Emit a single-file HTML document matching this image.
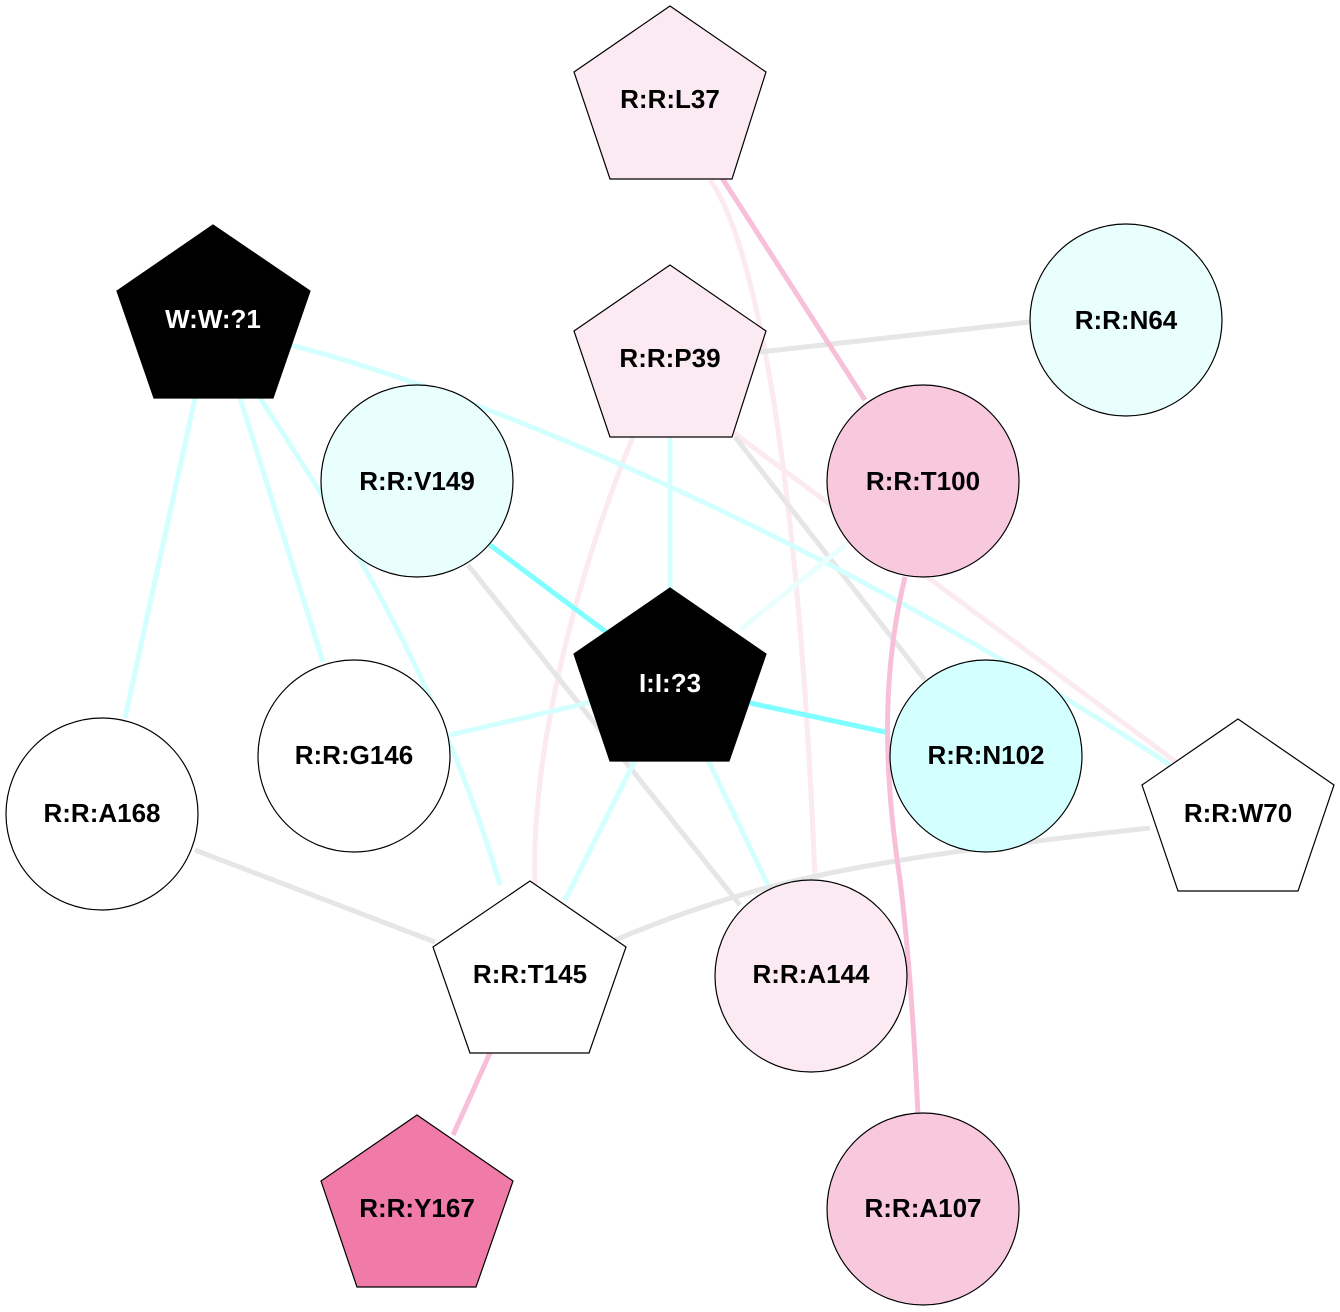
<!DOCTYPE html>
<html><head><meta charset="utf-8"><style>
html,body{margin:0;padding:0;background:#fff;}
svg{display:block;}
text{font-family:"Liberation Sans",Arial,sans-serif;font-weight:bold;font-size:26px;text-anchor:middle;dominant-baseline:central;}
</style></head><body>
<svg width="1340" height="1312" viewBox="0 0 1340 1312" xmlns="http://www.w3.org/2000/svg">
<g fill="none" stroke-width="5">
<path d="M710,180 C760,250 800,500 815,880" stroke="#fbeaf0"/>
<path d="M640,420 C580,560 530,750 535,885" stroke="#fbeaf0"/>
<line x1="730" y1="430" x2="1180" y2="765" stroke="#fbeaf0"/>
<line x1="760" y1="352" x2="1030" y2="322" stroke="#e6e6e6"/>
<line x1="735" y1="437" x2="925" y2="680" stroke="#e6e6e6"/>
<line x1="468" y1="565" x2="740" y2="905" stroke="#e6e6e6"/>
<line x1="195" y1="850" x2="435" y2="942" stroke="#e6e6e6"/>
<path d="M615,940 C760,880 860,860 1150,828" stroke="#e6e6e6"/>
<line x1="670" y1="437" x2="670" y2="590" stroke="#d4ffff"/>
<line x1="195" y1="398" x2="125" y2="718" stroke="#d4ffff"/>
<line x1="240" y1="398" x2="323" y2="662" stroke="#d4ffff"/>
<path d="M260,398 C340,520 440,680 500,885" stroke="#d4ffff"/>
<path d="M290,345 C450,385 800,520 1170,765" stroke="#d4ffff"/>
<line x1="450" y1="735" x2="600" y2="700" stroke="#d4ffff"/>
<line x1="635" y1="760" x2="565" y2="900" stroke="#d4ffff"/>
<line x1="708" y1="760" x2="768" y2="885" stroke="#d4ffff"/>
<line x1="740" y1="630" x2="845" y2="545" stroke="#e8fffe"/>
<line x1="490" y1="545" x2="610" y2="635" stroke="#7fffff"/>
<line x1="750" y1="703" x2="890" y2="733" stroke="#7fffff"/>
<line x1="722" y1="178" x2="865" y2="400" stroke="#f8c0d8"/>
<path d="M905,577 C880,680 885,780 900,880 C910,960 915,1050 918,1115" stroke="#f8c0d8"/>
<line x1="490" y1="1053" x2="453" y2="1135" stroke="#f8c0d8"/>
</g>
<g stroke="#000" stroke-width="1.2">
<polygon points="670,6 766,72 732,179 610,179 574,72" fill="#fbeaf2"/>
<polygon points="213,225 310,291 273,398 154,398 117,291" fill="#000"/>
<polygon points="670,265 766,331 732,437 610,437 574,331" fill="#fbeaf2"/>
<circle cx="1126" cy="320" r="96" fill="#e8fffe"/>
<circle cx="417" cy="481" r="96" fill="#e8fffe"/>
<circle cx="923" cy="481" r="96" fill="#f8c8dc"/>
<polygon points="670,588 766,654 729,761 610,761 574,654" fill="#000"/>
<circle cx="354" cy="756" r="96" fill="#fff"/>
<circle cx="986" cy="756" r="96" fill="#d4ffff"/>
<circle cx="102" cy="814" r="96" fill="#fff"/>
<polygon points="1238,719 1334,785 1298,891 1178,891 1142,785" fill="#fff"/>
<polygon points="530,881 626,947 589,1053 470,1053 433,947" fill="#fff"/>
<circle cx="811" cy="976" r="96" fill="#fbeaf2"/>
<polygon points="417,1115 513,1181 476,1287 357,1287 321,1181" fill="#f07aa8"/>
<circle cx="923" cy="1209" r="96" fill="#f8c8dc"/>
</g>
<text x="670" y="99">R:R:L37</text>
<text x="213" y="319" fill="#fff">W:W:?1</text>
<text x="670" y="358">R:R:P39</text>
<text x="1126" y="320">R:R:N64</text>
<text x="417" y="481">R:R:V149</text>
<text x="923" y="481">R:R:T100</text>
<text x="670" y="683" fill="#fff">I:I:?3</text>
<text x="354" y="755">R:R:G146</text>
<text x="986" y="755">R:R:N102</text>
<text x="102" y="813">R:R:A168</text>
<text x="1238" y="813">R:R:W70</text>
<text x="530" y="974">R:R:T145</text>
<text x="811" y="974">R:R:A144</text>
<text x="417" y="1208">R:R:Y167</text>
<text x="923" y="1208">R:R:A107</text>
</svg>
</body></html>
